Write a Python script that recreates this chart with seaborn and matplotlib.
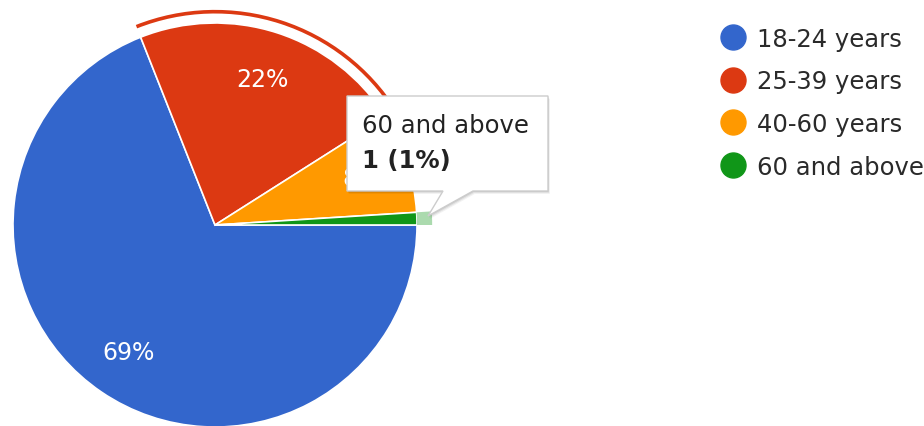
import matplotlib
matplotlib.use("Agg")
import matplotlib.pyplot as plt
import seaborn as sns
from matplotlib.patches import Polygon
from matplotlib.lines import Line2D

# ---- data ----
categories = ["18-24 years", "25-39 years", "40-60 years", "60 and above"]
counts = [69, 22, 8, 1]
colors = ["#3366cc", "#dc3912", "#ff9900", "#109618"]
selected = "25-39 years"      # slice with the selection ring
hovered = "60 and above"      # slice with the tooltip

sns.set_theme(style="white")
plt.rcParams['font.family'] = ['DejaVu Sans']

W, H = 924, 427
fig = plt.figure(figsize=(W / 100, H / 100), dpi=100)
ax = fig.add_axes([0, 0, 1, 1])
cx, cy, R = 215, H - 226, 202


def pct(p):
    return f"{p:.0f}%" if p >= 5 else ""


wedges, texts, autotexts = ax.pie(
    counts, colors=colors, startangle=0, counterclock=False,
    center=(cx, cy), radius=R, autopct=pct, pctdistance=0.76,
    wedgeprops=dict(edgecolor="white", linewidth=1.2),
    textprops=dict(color="white", fontsize=17))

# selection ring around the selected slice
ax.pie(counts, colors=[c if k == selected else "none" for k, c in zip(categories, colors)],
       startangle=0, counterclock=False, center=(cx, cy), radius=R * 1.065,
       wedgeprops=dict(width=R * 0.018, linewidth=0))

# hover highlight for the hovered slice
ax.pie(counts, colors=[c if k == hovered else "none" for k, c in zip(categories, colors)],
       startangle=0, counterclock=False, center=(cx, cy), radius=R * 1.075,
       wedgeprops=dict(width=R * 0.075, linewidth=0, alpha=0.35))

# legend
handles = [Line2D([], [], marker="o", ls="", markersize=18,
                  markerfacecolor=c, markeredgecolor=c) for c in colors]
leg = ax.legend(handles, categories, loc="upper left",
                bbox_to_anchor=(721 / W, 1 - 27.5 / H), frameon=False,
                fontsize=17.5, handlelength=1.0, handletextpad=0.5,
                labelspacing=0.77, borderpad=0, borderaxespad=0)
for t in leg.get_texts():
    t.set_color("#2a2a2a")

# tooltip
hi = categories.index(hovered)
share = counts[hi] / sum(counts) * 100
pts = [(347, 97), (548, 97), (548, 192), (473, 192), (428, 217), (443, 192), (347, 192)]
for off, a in [(3, 0.05), (2, 0.07), (1, 0.09)]:
    ax.add_patch(Polygon([(x + off * 0.6, H - y - off) for x, y in pts], closed=True,
                         facecolor="black", edgecolor="none", alpha=a, zorder=9))
ax.add_patch(Polygon([(x, H - y) for x, y in pts], closed=True,
                     facecolor="white", edgecolor="#cccccc", linewidth=1, zorder=10))
ax.text(362, H - 133, hovered, fontsize=17.5, va="baseline", ha="left",
        color="#222222", zorder=11)
ax.text(362, H - 168, f"{counts[hi]} ({share:.0f}%)", fontsize=17.5, va="baseline",
        ha="left", fontweight="bold", color="#222222", zorder=11)

ax.set_xlim(0, W)
ax.set_ylim(0, H)
ax.set_aspect("equal")
ax.axis("off")

fig.savefig("out.png", dpi=100)
